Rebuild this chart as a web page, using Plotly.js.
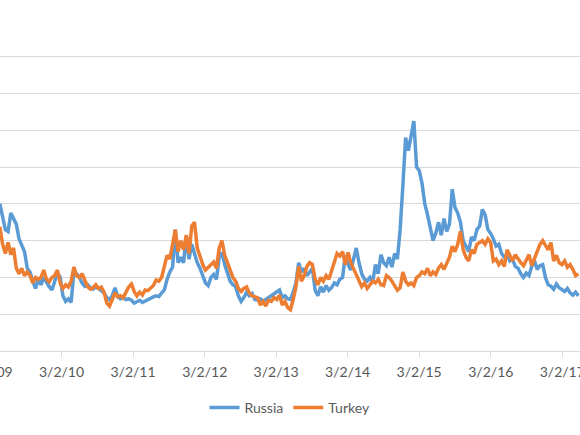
<!DOCTYPE html>
<html>
<head>
<meta charset="utf-8">
<script src="https://cdn.plot.ly/plotly-3.0.1.min.js"></script>
<style>
  html, body { margin: 0; padding: 0; background: #ffffff; overflow: hidden; width: 580px; height: 435px; }
  #chart { position: absolute; left: -40px; top: 0; width: 660px; height: 435px; }
</style>
</head>
<body>
<div id="chart"></div>
<script>
// Sampling grid of the series (one reading every 14 days, starting at the left edge of the picture)
const startDate = '2009-04-21';
const stepDays = 14;

// Tick labels of the date axis
const tickDates = ['2009-03-02','2010-03-02','2011-03-02','2012-03-02','2013-03-02','2014-03-02','2015-03-02','2016-03-02','2017-03-02'];
const tickLabels = ['3/2/09','3/2/10','3/2/11','3/2/12','3/2/13','3/2/14','3/2/15','3/2/16','3/2/17'];

const seriesNames = ['Russia', 'Turkey'];

// Values (basis points)
const russia = [
  400,360,330,325,375,360,345,305,285,270,
  225,215,190,170,195,180,200,185,175,166,
  190,212,200,150,135,142,132,215,210,200,
  185,176,180,172,168,174,170,165,158,145,
  140,150,172,148,142,145,140,142,138,130,
  135,138,132,136,140,145,147,150,148,158,
  166,195,215,228,330,240,255,240,310,250,
  290,265,240,225,205,185,178,200,208,195,
  255,268,235,215,190,180,175,150,135,145,
  160,150,156,140,138,142,135,140,145,150,
  155,162,166,145,150,142,140,160,185,240,
  215,225,205,215,225,165,150,175,160,178,
  165,172,185,180,195,200,260,235,220,250,
  280,240,210,195,190,200,188,235,210,262,
  240,232,255,228,265,250,330,450,580,545,
  590,625,500,490,455,400,370,340,300,320,
  350,315,360,325,345,440,390,375,350,300,
  285,270,310,300,330,340,385,370,330,320,
  305,285,290,265,255,262,245,250,230,225,
  210,200,212,205,230,245,222,232,235,200,
  180,176,168,182,172,168,162,170,158,152,
  160,150
];
const turkey = [
  338,290,265,295,262,280,225,210,225,205,
  215,205,185,200,195,200,220,195,188,200,
  205,220,185,170,180,174,190,228,205,200,
  210,190,175,168,172,180,170,174,160,130,
  122,140,158,147,150,145,160,174,182,162,
  150,160,152,166,164,170,178,193,190,200,
  230,260,250,290,330,270,300,275,315,265,
  340,350,280,258,235,220,228,235,242,225,
  280,300,260,240,220,200,190,170,162,170,
  174,158,150,148,145,125,135,122,138,135,
  145,140,152,125,135,118,112,140,175,230,
  190,205,230,240,235,195,180,200,190,205,
  195,218,245,265,258,270,235,268,240,225,
  210,190,175,185,170,180,190,185,195,180,
  178,205,200,190,178,165,172,215,190,180,
  185,178,200,205,215,210,225,205,215,208,
  225,235,222,236,255,285,270,290,325,275,
  255,245,275,265,290,295,300,290,305,295,
  245,250,235,245,230,275,260,245,262,250,
  240,232,245,262,232,250,270,290,300,285,
  275,295,245,260,240,235,245,228,235,222,
  205,210
];

function buildDates(start, step, n) {
  const out = [];
  const t0 = new Date(start + 'T00:00:00Z').getTime();
  for (let i = 0; i < n; i++) {
    out.push(new Date(t0 + i * step * 86400000).toISOString().slice(0, 10));
  }
  return out;
}
const dates = buildDates(startDate, stepDays, russia.length);

const font = 'Lato, "Open Sans", "DejaVu Sans", sans-serif';
const textColor = '#595959';
const gridColor = '#D9D9D9';

const traces = [
  { x: dates, y: russia, name: seriesNames[0], type: 'scatter', mode: 'lines',
    line: { color: '#5B9BD5', width: 3.5 } },
  { x: dates, y: turkey, name: seriesNames[1], type: 'scatter', mode: 'lines',
    line: { color: '#ED7D31', width: 3.5 } }
];

const layout = {
  width: 660, height: 435,
  margin: { l: 0, r: 0, t: 20, b: 84 },
  paper_bgcolor: '#ffffff', plot_bgcolor: '#ffffff',
  font: { family: font, size: 14, color: textColor },
  showlegend: true,
  legend: { orientation: 'h', x: 0.5, xanchor: 'center', y: -0.172, yanchor: 'middle',
    font: { family: font, size: 14, color: textColor }, itemwidth: 30, tracegroupgap: 0 },
  xaxis: {
    type: 'date', range: ['2008-09-29 12:00', '2017-12-21 17:00'],
    tickmode: 'array', tickvals: tickDates, ticktext: tickLabels,
    showgrid: false, zeroline: false,
    showline: true, linecolor: gridColor, linewidth: 1,
    ticks: 'outside', ticklen: 5, tickcolor: gridColor, tickwidth: 1,
    ticklabelstandoff: 3,
    tickfont: { family: font, size: 14, color: textColor },
    fixedrange: true
  },
  yaxis: {
    range: [0, 900], dtick: 100, tick0: 0,
    showgrid: true, gridcolor: gridColor, gridwidth: 1,
    zeroline: false, showticklabels: false, ticks: '',
    fixedrange: true
  }
};

Plotly.newPlot('chart', traces, layout, { displayModeBar: false, staticPlot: true });
</script>
</body>
</html>
